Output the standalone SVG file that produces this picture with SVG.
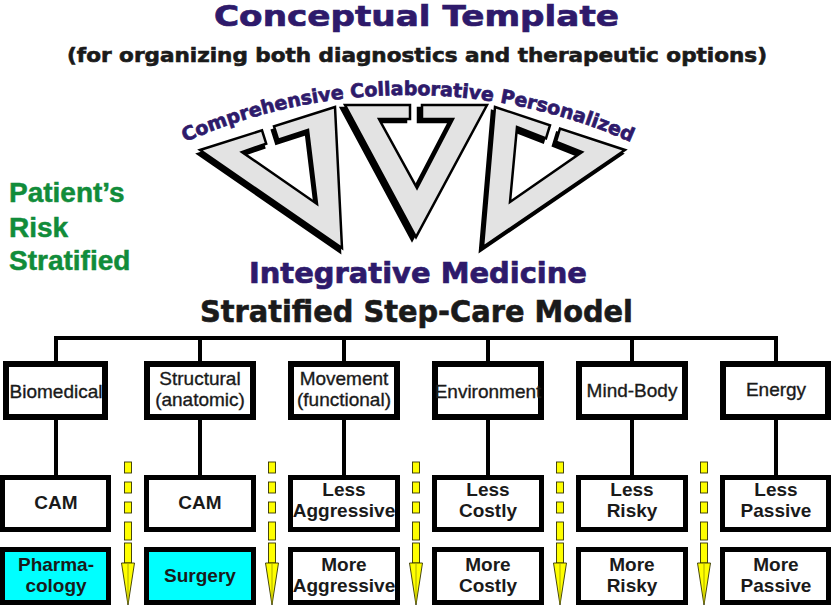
<svg xmlns="http://www.w3.org/2000/svg" width="832" height="609" viewBox="0 0 832 609">
<defs>
<style>
.heavy{font-family:"DejaVu Sans","Liberation Sans",sans-serif;font-weight:bold;text-anchor:middle}
.purple{fill:#2E1A6B;stroke:#2E1A6B;stroke-width:0.7}
.dark{fill:#1a1a1a;stroke:#1a1a1a;stroke-width:0.6}
.green{font-family:"Liberation Sans",Arial,sans-serif;font-weight:bold;font-size:28px;fill:#118C3A;stroke:#118C3A;stroke-width:0.5}
.top{fill:#fff;stroke:#000;stroke-width:6}
.low{fill:#fff;stroke:#000;stroke-width:5}
.cyan{fill:#00FFFF}
.lbl{font-family:"Liberation Sans",Arial,sans-serif;font-size:19px;fill:#1a1a1a;stroke:#1a1a1a;stroke-width:0.35;text-anchor:middle}
.blbl{font-family:"Liberation Sans",Arial,sans-serif;font-weight:bold;font-size:19px;fill:#1a1a1a;text-anchor:middle}
.tri{fill:#E3E3E3;stroke:#000;stroke-width:2.5;stroke-linejoin:miter}
.sh{fill:#000;stroke:#000;stroke-width:2.5}
.conn{stroke:#000;stroke-width:4;fill:none}
.dash{fill:#FFFF00;stroke:#333300;stroke-width:0.9}
</style>
<path id="arc" d="M132.5,168.8 A551,551 0 0,1 683.5,168.8"/>
<g id="yarrow">
<rect class="dash" x="-3.5" y="462" width="7" height="11"/>
<rect class="dash" x="-3.5" y="482" width="7" height="11"/>
<rect class="dash" x="-3.5" y="502" width="7" height="11"/>
<rect class="dash" x="-3.5" y="522" width="7" height="18"/>
<rect class="dash" x="-3.5" y="543" width="7" height="20"/>
<polygon class="dash" points="-6.5,563 6.5,563 0,605"/>
<line x1="0" y1="564" x2="0" y2="603" stroke="#999900" stroke-width="0.8"/>
</g>
</defs>
<rect width="832" height="609" fill="#fff"/>

<g id="title">
<text class="heavy purple" x="416.5" y="26" font-size="29" textLength="405" lengthAdjust="spacingAndGlyphs">Conceptual Template</text>
<text class="heavy dark" x="417" y="62" font-size="19" textLength="700" lengthAdjust="spacingAndGlyphs">(for organizing both diagnostics and therapeutic options)</text>
</g>

<g id="arc-text">
<text class="heavy purple" font-size="19"><textPath href="#arc" startOffset="50%">Comprehensive Collaborative Personalized</textPath></text>
</g>

<g id="triangles">
<g id="tri-left">
<path class="sh" transform="translate(-2,4)" d="M200,150 L262,130.3 L266.2,143.6 L242,152 L317,204 L308,130 L278.2,139.7 L274,126.4 L335,107 L342,248 Z"/>
<path class="tri" d="M200,150 L262,130.3 L266.2,143.6 L242,152 L317,204 L308,130 L278.2,139.7 L274,126.4 L335,107 L342,248 Z"/>
</g>
<g id="tri-mid">
<path class="sh" transform="translate(-4,3)" d="M345,105 L410,105 L410,119 L379,119 L417,188 L453,119 L422,119 L422,105 L487,105 L416,237 Z"/>
<path class="tri" d="M345,105 L410,105 L410,119 L379,119 L417,188 L453,119 L422,119 L422,105 L487,105 L416,237 Z"/>
</g>
<g id="tri-right">
<path class="sh" transform="translate(-3,4)" d="M495,107 L550,125.2 L546,138.3 L517,127 L510,202 L582,152 L556,141.7 L560,128.5 L625,150 L483,247 Z"/>
<path class="tri" d="M495,107 L550,125.2 L546,138.3 L517,127 L510,202 L582,152 L556,141.7 L560,128.5 L625,150 L483,247 Z"/>
</g>
</g>

<g id="risk">
<text class="green" x="9" y="202">Patient’s</text>
<text class="green" x="9" y="237">Risk</text>
<text class="green" x="9" y="270">Stratified</text>
</g>

<g id="headings">
<text class="heavy purple" x="418" y="283" font-size="27.5" textLength="338" lengthAdjust="spacingAndGlyphs">Integrative Medicine</text>
<text class="heavy dark" x="416.5" y="322" font-size="30" textLength="433" lengthAdjust="spacingAndGlyphs">Stratified Step-Care Model</text>
</g>

<g id="connectors">
<line class="conn" x1="54" y1="338" x2="778" y2="338"/>
<path class="conn" d="M56,338 V362 M200,338 V362 M344,338 V362 M488,338 V362 M632,338 V362 M776,338 V362"/>
<path class="conn" d="M56,419 V476 M200,419 V476 M344,419 V476 M488,419 V476 M632,419 V476 M776,419 V476"/>
</g>

<g id="n-biomedical"><rect class="top" x="6" y="364" width="99" height="53"/><text class="lbl" x="56" y="398">Biomedical</text></g>
<g id="n-structural"><rect class="top" x="147" y="364" width="106" height="53"/><text class="lbl" x="200" y="385">Structural</text><text class="lbl" x="200" y="406">(anatomic)</text></g>
<g id="n-movement"><rect class="top" x="291" y="364" width="106" height="53"/><text class="lbl" x="344" y="385">Movement</text><text class="lbl" x="344" y="406">(functional)</text></g>
<g id="n-environment"><rect class="top" x="435" y="364" width="106" height="53"/><text class="lbl" x="488" y="398" font-size="17">Environment</text></g>
<g id="n-mindbody"><rect class="top" x="579" y="364" width="106" height="53"/><text class="lbl" x="632" y="397">Mind-Body</text></g>
<g id="n-energy"><rect class="top" x="723" y="364" width="105" height="53"/><text class="lbl" x="776" y="396">Energy</text></g>

<g id="n-cam1"><rect class="low" x="2.5" y="477.5" width="106" height="52"/><text class="blbl" x="56" y="509">CAM</text></g>
<g id="n-cam2"><rect class="low" x="146.5" y="477.5" width="107" height="52"/><text class="blbl" x="200" y="509">CAM</text></g>
<g id="n-lessagg"><rect class="low" x="290.5" y="477.5" width="107" height="52"/><text class="blbl" x="344" y="496">Less</text><text class="blbl" x="344" y="517">Aggressive</text></g>
<g id="n-lesscost"><rect class="low" x="434.5" y="477.5" width="107" height="52"/><text class="blbl" x="488" y="496">Less</text><text class="blbl" x="488" y="517">Costly</text></g>
<g id="n-lessrisk"><rect class="low" x="578.5" y="477.5" width="107" height="52"/><text class="blbl" x="632" y="496">Less</text><text class="blbl" x="632" y="517">Risky</text></g>
<g id="n-lesspass"><rect class="low" x="722.5" y="477.5" width="106" height="52"/><text class="blbl" x="776" y="496">Less</text><text class="blbl" x="776" y="517">Passive</text></g>

<g id="n-pharma"><rect class="low cyan" x="2.5" y="549.5" width="106" height="53"/><text class="blbl" x="56" y="571">Pharma-</text><text class="blbl" x="56" y="592">cology</text></g>
<g id="n-surgery"><rect class="low cyan" x="146.5" y="549.5" width="107" height="53"/><text class="blbl" x="200" y="582">Surgery</text></g>
<g id="n-moreagg"><rect class="low" x="290.5" y="549.5" width="107" height="53"/><text class="blbl" x="344" y="571">More</text><text class="blbl" x="344" y="592">Aggressive</text></g>
<g id="n-morecost"><rect class="low" x="434.5" y="549.5" width="107" height="53"/><text class="blbl" x="488" y="571">More</text><text class="blbl" x="488" y="592">Costly</text></g>
<g id="n-morerisk"><rect class="low" x="578.5" y="549.5" width="107" height="53"/><text class="blbl" x="632" y="571">More</text><text class="blbl" x="632" y="592">Risky</text></g>
<g id="n-morepass"><rect class="low" x="722.5" y="549.5" width="106" height="53"/><text class="blbl" x="776" y="571">More</text><text class="blbl" x="776" y="592">Passive</text></g>

<g id="step-arrows">
<use href="#yarrow" x="128"/>
<use href="#yarrow" x="272"/>
<use href="#yarrow" x="416"/>
<use href="#yarrow" x="560"/>
<use href="#yarrow" x="704"/>
</g>
</svg>
